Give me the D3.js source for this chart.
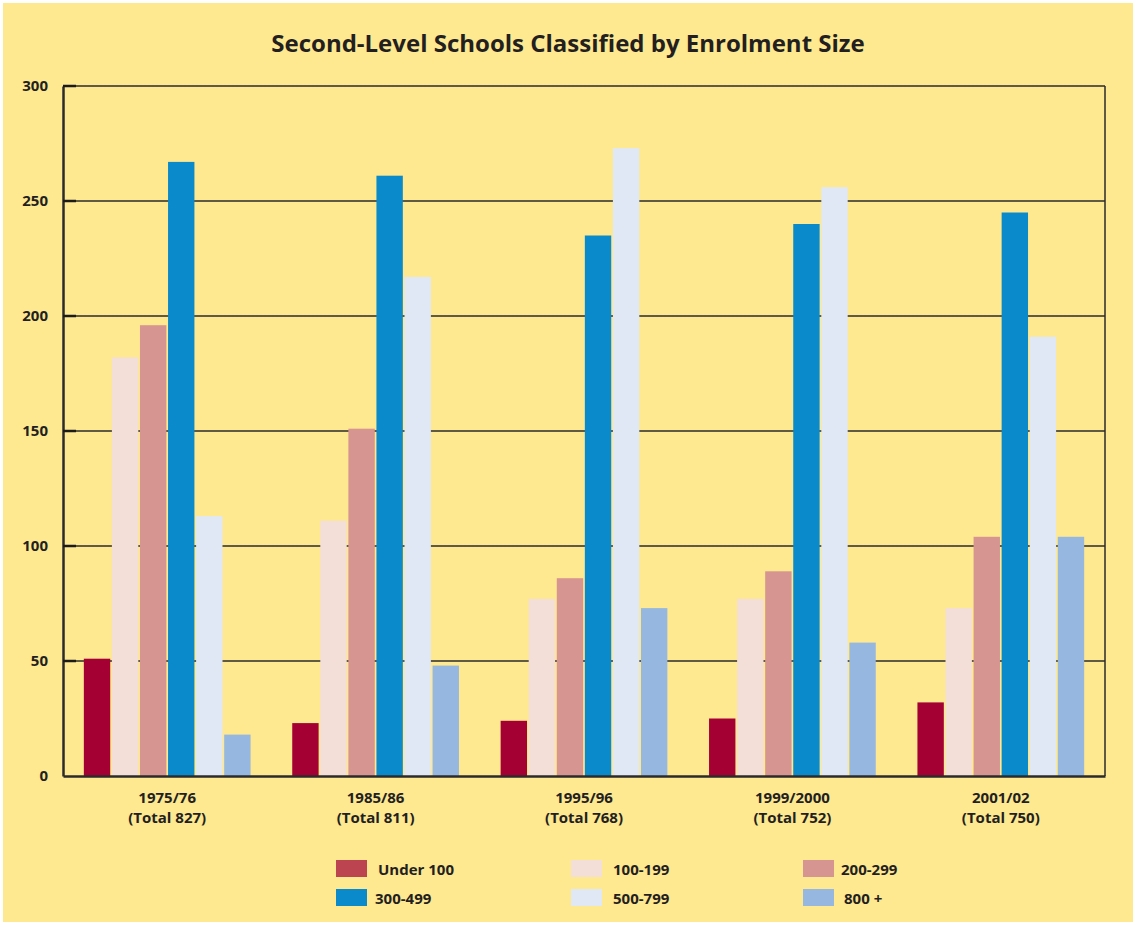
<!DOCTYPE html>
<html>
<head>
<meta charset="utf-8">
<script src="https://cdn.jsdelivr.net/npm/d3@7"></script>
<style>
  body { margin: 0; background: #fff; }
  text { font-family: "Open Sans", "Noto Sans", sans-serif; font-weight: bold; fill: #231f20; }
</style>
</head>
<body>
<svg id="chart"></svg>
<script>
// data
var years = ["1975/76", "1985/86", "1995/96", "1999/2000", "2001/02"];
var totals = ["(Total 827)", "(Total 811)", "(Total 768)", "(Total 752)", "(Total 750)"];
var sizes = ["Under 100", "100-199", "200-299", "300-499", "500-799", "800 +"];
var under100 = [51, 23, 24, 25, 32];
var s100_199 = [182, 111, 77, 77, 73];
var s200_299 = [196, 151, 86, 89, 104];
var s300_499 = [267, 261, 235, 240, 245];
var s500_799 = [113, 217, 273, 256, 191];
var s800plus = [18, 48, 73, 58, 104];
var yTicks = [0, 50, 100, 150, 200, 250, 300];

var series = [under100, s100_199, s200_299, s300_499, s500_799, s800plus];
var barColors = ["#a50034", "#f3ded8", "#d79592", "#0a8acb", "#e0e8f5", "#96b8e0"];
var legendColors = ["#bb4450", "#f3ded8", "#d79592", "#0a8acb", "#e0e8f5", "#96b8e0"];

var W = 1136, H = 925;
var margin = { top: 86, right: 31, bottom: 149, left: 63 };
var width = W - margin.left - margin.right;
var height = H - margin.top - margin.bottom;

var svg = d3.select("#chart").attr("width", W).attr("height", H);

svg.append("rect")
  .attr("x", 3).attr("y", 3)
  .attr("width", W - 6).attr("height", H - 6)
  .attr("fill", "#fee890");

svg.append("text")
  .attr("x", 568).attr("y", 52)
  .attr("text-anchor", "middle")
  .style("font-size", "24px")
  .text("Second-Level Schools Classified by Enrolment Size");

var g = svg.append("g").attr("transform", "translate(" + margin.left + "," + margin.top + ")");

var x0 = d3.scaleBand().domain(years).range([0, width]).paddingInner(0.2).paddingOuter(0.1);
var x1 = d3.scaleBand().domain(sizes).range([0, x0.bandwidth()]).paddingInner(0.06);
var y = d3.scaleLinear().domain([0, 300]).range([height, 0]);

// grid lines
g.append("g")
  .selectAll("line")
  .data(yTicks.slice(1, -1))
  .join("line")
  .attr("x1", 0).attr("x2", width)
  .attr("y1", d => y(d)).attr("y2", d => y(d))
  .attr("stroke", "#2b2b2b")
  .attr("stroke-width", 1.5);

// frame top & right
g.append("line").attr("x1", 0).attr("x2", width).attr("y1", 0).attr("y2", 0)
  .attr("stroke", "#2b2b2b").attr("stroke-width", 1.5);
g.append("line").attr("x1", width).attr("x2", width).attr("y1", 0).attr("y2", height)
  .attr("stroke", "#2b2b2b").attr("stroke-width", 1.5);

// bars
var rows = years.map(function (yr, i) {
  return { year: yr, vals: sizes.map(function (s, j) { return { size: s, v: series[j][i], c: barColors[j] }; }) };
});

g.append("g")
  .selectAll("g")
  .data(rows)
  .join("g")
  .attr("transform", d => "translate(" + x0(d.year) + ",0)")
  .selectAll("rect")
  .data(d => d.vals)
  .join("rect")
  .attr("x", d => x1(d.size))
  .attr("width", x1.bandwidth())
  .attr("y", d => y(d.v))
  .attr("height", d => height - y(d.v))
  .attr("fill", d => d.c);

// y axis
var yAxis = g.append("g")
  .call(d3.axisLeft(y).tickValues(yTicks).tickSize(0).tickPadding(15));
yAxis.select(".domain").attr("stroke", "#2b2b2b").attr("stroke-width", 2.5);
yAxis.selectAll("text").style("font-size", "15px").attr("fill", "#231f20");

// short tick stubs inside the frame
g.append("g")
  .selectAll("line")
  .data(yTicks.slice(1))
  .join("line")
  .attr("x1", 0).attr("x2", 13)
  .attr("y1", d => y(d)).attr("y2", d => y(d))
  .attr("stroke", "#1a1a1a").attr("stroke-width", 2.5);

// x axis
var xAxis = g.append("g")
  .attr("transform", "translate(0," + height + ")")
  .call(d3.axisBottom(x0).tickSize(0).tickPadding(0));
xAxis.select(".domain").attr("stroke", "#2b2b2b").attr("stroke-width", 2.5);
xAxis.selectAll("text").remove();
xAxis.selectAll(".tick").each(function (d, i) {
  var t = d3.select(this);
  t.append("text")
    .attr("text-anchor", "middle")
    .attr("y", 27)
    .style("font-size", "15px")
    .attr("fill", "#231f20")
    .text(d);
  t.append("text")
    .attr("text-anchor", "middle")
    .attr("y", 47)
    .style("font-size", "15px")
    .attr("fill", "#231f20")
    .text(totals[i]);
});

// legend
var legX = [336, 571, 803];
var legY = [860, 889];
var legTextX = [378, 613, 841];
var legend = svg.append("g")
  .selectAll("g")
  .data(sizes)
  .join("g")
  .attr("transform", function (d, i) {
    return "translate(" + legX[i % 3] + "," + legY[Math.floor(i / 3)] + ")";
  });
legend.append("rect")
  .attr("width", 31).attr("height", 17)
  .attr("fill", (d, i) => legendColors[i]);
legend.append("text")
  .attr("x", (d, i) => legTextX[i % 3] - legX[i % 3] + (i === 3 ? -3 : 0) + (i === 5 ? 3 : 0))
  .attr("y", 15)
  .style("font-size", "15px")
  .text(d => d);
</script>
</body>
</html>
